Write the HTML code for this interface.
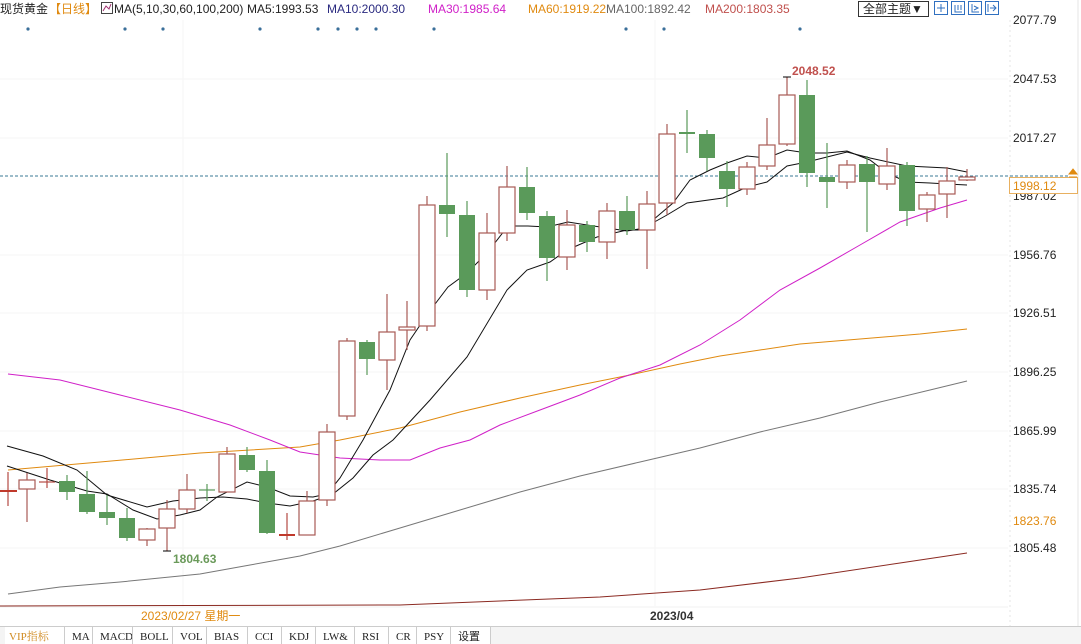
<!DOCTYPE html>
<html><head><meta charset="utf-8"><style>
body{margin:0;width:1081px;height:644px;overflow:hidden;background:#fff;font-family:"Liberation Sans","Noto Sans CJK SC",sans-serif;}
svg{position:absolute;left:0;top:0}
</style></head><body>
<svg width="1081" height="644" viewBox="0 0 1081 644" xmlns="http://www.w3.org/2000/svg" font-family="Liberation Sans, Noto Sans CJK SC, sans-serif">
<g stroke="#f6f6f6" stroke-width="1">
<line x1="0" y1="79" x2="1008" y2="79"/><line x1="0" y1="138" x2="1008" y2="138"/><line x1="0" y1="255" x2="1008" y2="255"/><line x1="0" y1="313" x2="1008" y2="313"/><line x1="0" y1="372" x2="1008" y2="372"/><line x1="0" y1="431" x2="1008" y2="431"/><line x1="0" y1="489" x2="1008" y2="489"/><line x1="0" y1="548" x2="1008" y2="548"/>
<line x1="183" y1="20" x2="183" y2="606"/><line x1="655" y1="20" x2="655" y2="606"/>
</g>
<line x1="1010" y1="20" x2="1010" y2="644" stroke="#e6e6e6" stroke-dasharray="2,3"/>
<line x1="1078" y1="0" x2="1078" y2="644" stroke="#e6e6e6"/>
<line x1="0" y1="176" x2="1070" y2="176" stroke="#3a7a95" stroke-dasharray="3,2"/>
<g fill="#3a6f9a">
<circle cx="28" cy="29" r="1.6"/><circle cx="125" cy="29" r="1.6"/><circle cx="163" cy="29" r="1.6"/><circle cx="260" cy="29" r="1.6"/><circle cx="318" cy="29" r="1.6"/><circle cx="338" cy="29" r="1.6"/><circle cx="357" cy="29" r="1.6"/><circle cx="376" cy="29" r="1.6"/><circle cx="434" cy="29" r="1.6"/><circle cx="626" cy="29" r="1.6"/><circle cx="664" cy="29" r="1.6"/><circle cx="800" cy="29" r="1.6"/>
</g>
<g fill="none" stroke-width="1">
<polyline stroke="#8b2a22" points="0,606 400,605 500,601 600,597 700,590 800,578 900,563 967,553"/>
<polyline stroke="#777" points="8,594 60,587 120,582 200,574 250,565 300,556 340,546 400,528 460,510 520,492 580,476 640,462 700,448 760,432 820,418 880,402 930,390 967,381"/>
<polyline stroke="#e08a10" points="8,470 100,462 200,453 300,447 340,440 400,428 460,412 520,398 580,385 630,375 680,364 720,356 760,350 800,344 860,339 920,334 967,329"/>
<polyline stroke="#d020c8" points="8,374 60,380 120,395 180,410 230,425 270,440 300,452 340,458 380,460 410,460 440,448 470,440 500,425 540,410 580,395 620,378 660,365 700,345 740,320 780,290 820,268 860,245 900,222 940,208 967,200"/>
<polyline stroke="#111" points="7,446 43,456 77,470 107,495 147,507 173,501 200,498 223,497 247,499 267,503 290,506 313,501 333,494 353,478 373,455 393,440 430,400 467,357 507,290 527,270 550,262 567,250 597,237 627,230 640,230 667,215 687,203 723,198 747,187 767,182 787,166 807,162 827,157 847,152 870,158 907,166 947,168 967,172"/>
<polyline stroke="#111" points="7,466 50,480 87,491 107,494 133,510 157,519 180,515 200,510 217,497 247,482 267,487 290,496 313,497 327,494 340,478 363,440 390,390 410,340 429,312 448,287 467,273 487,253 508,226 528,226 547,227 568,222 587,225 607,228 627,231 645,228 653,220 673,203 690,180 710,170 727,163 747,156 767,158 787,150 807,153 827,153 847,151 870,160 887,173 907,182 930,183 947,184 967,185"/>
</g>
<g stroke-width="1.2">
<line x1="8" y1="472" x2="8" y2="506" stroke="#b34a43"/><line x1="0" y1="491" x2="17" y2="491" stroke="#c0392b" stroke-width="2"/>
<line x1="27" y1="473" x2="27" y2="522" stroke="#a85a55"/><rect x="19" y="480" width="16" height="9" fill="#fff" stroke="#a85a55"/>
<line x1="47" y1="468" x2="47" y2="488" stroke="#b34a43"/><line x1="39" y1="482" x2="55" y2="482" stroke="#b34a43"/>
<line x1="67" y1="475" x2="67" y2="500" stroke="#5a9a5a"/><rect x="59" y="481" width="16" height="11" fill="#5a9a5a"/>
<line x1="87" y1="471" x2="87" y2="514" stroke="#5a9a5a"/><rect x="79" y="494" width="16" height="18" fill="#5a9a5a"/>
<line x1="107" y1="495" x2="107" y2="525" stroke="#5a9a5a"/><rect x="99" y="512" width="16" height="6" fill="#5a9a5a"/>
<line x1="127" y1="508" x2="127" y2="541" stroke="#5a9a5a"/><rect x="119" y="518" width="16" height="20" fill="#5a9a5a"/>
<line x1="147" y1="528" x2="147" y2="546" stroke="#a85a55"/><rect x="139" y="529" width="16" height="11" fill="#fff" stroke="#a85a55"/>
<line x1="167" y1="500" x2="167" y2="551" stroke="#a85a55"/><rect x="159" y="509" width="16" height="19" fill="#fff" stroke="#a85a55"/>
<line x1="187" y1="474" x2="187" y2="513" stroke="#a85a55"/><rect x="179" y="490" width="16" height="19" fill="#fff" stroke="#a85a55"/>
<line x1="207" y1="484" x2="207" y2="501" stroke="#5a9a5a"/><line x1="199" y1="490" x2="215" y2="490" stroke="#5a9a5a"/>
<line x1="227" y1="447" x2="227" y2="492" stroke="#a85a55"/><rect x="219" y="454" width="16" height="38" fill="#fff" stroke="#a85a55"/>
<line x1="247" y1="447" x2="247" y2="472" stroke="#5a9a5a"/><rect x="239" y="455" width="16" height="15" fill="#5a9a5a"/>
<line x1="267" y1="460" x2="267" y2="534" stroke="#5a9a5a"/><rect x="259" y="471" width="16" height="62" fill="#5a9a5a"/>
<line x1="287" y1="513" x2="287" y2="540" stroke="#b34a43"/><line x1="279" y1="535" x2="295" y2="535" stroke="#c0392b" stroke-width="2"/>
<line x1="307" y1="491" x2="307" y2="535" stroke="#a85a55"/><rect x="299" y="501" width="16" height="34" fill="#fff" stroke="#a85a55"/>
<line x1="327" y1="424" x2="327" y2="506" stroke="#a85a55"/><rect x="319" y="432" width="16" height="68" fill="#fff" stroke="#a85a55"/>
<line x1="347" y1="338" x2="347" y2="420" stroke="#a85a55"/><rect x="339" y="341" width="16" height="75" fill="#fff" stroke="#a85a55"/>
<line x1="367" y1="340" x2="367" y2="375" stroke="#5a9a5a"/><rect x="359" y="342" width="16" height="17" fill="#5a9a5a"/>
<line x1="387" y1="294" x2="387" y2="390" stroke="#a85a55"/><rect x="379" y="332" width="16" height="28" fill="#fff" stroke="#a85a55"/>
<line x1="407" y1="301" x2="407" y2="350" stroke="#a85a55"/><rect x="399" y="327" width="16" height="3" fill="#fff" stroke="#a85a55"/>
<line x1="427" y1="196" x2="427" y2="331" stroke="#a85a55"/><rect x="419" y="205" width="16" height="121" fill="#fff" stroke="#a85a55"/>
<line x1="447" y1="153" x2="447" y2="237" stroke="#5a9a5a"/><rect x="439" y="205" width="16" height="9" fill="#5a9a5a"/>
<line x1="467" y1="201" x2="467" y2="297" stroke="#5a9a5a"/><rect x="459" y="215" width="16" height="75" fill="#5a9a5a"/>
<line x1="487" y1="213" x2="487" y2="300" stroke="#a85a55"/><rect x="479" y="233" width="16" height="57" fill="#fff" stroke="#a85a55"/>
<line x1="507" y1="166" x2="507" y2="241" stroke="#a85a55"/><rect x="499" y="187" width="16" height="46" fill="#fff" stroke="#a85a55"/>
<line x1="527" y1="167" x2="527" y2="220" stroke="#5a9a5a"/><rect x="519" y="187" width="16" height="26" fill="#5a9a5a"/>
<line x1="547" y1="211" x2="547" y2="281" stroke="#5a9a5a"/><rect x="539" y="216" width="16" height="42" fill="#5a9a5a"/>
<line x1="567" y1="210" x2="567" y2="270" stroke="#a85a55"/><rect x="559" y="225" width="16" height="32" fill="#fff" stroke="#a85a55"/>
<line x1="587" y1="221" x2="587" y2="252" stroke="#5a9a5a"/><rect x="579" y="225" width="16" height="17" fill="#5a9a5a"/>
<line x1="607" y1="203" x2="607" y2="259" stroke="#a85a55"/><rect x="599" y="211" width="16" height="31" fill="#fff" stroke="#a85a55"/>
<line x1="627" y1="196" x2="627" y2="235" stroke="#5a9a5a"/><rect x="619" y="211" width="16" height="19" fill="#5a9a5a"/>
<line x1="647" y1="191" x2="647" y2="269" stroke="#a85a55"/><rect x="639" y="204" width="16" height="26" fill="#fff" stroke="#a85a55"/>
<line x1="667" y1="124" x2="667" y2="215" stroke="#a85a55"/><rect x="659" y="134" width="16" height="69" fill="#fff" stroke="#a85a55"/>
<line x1="687" y1="110" x2="687" y2="153" stroke="#5a9a5a"/><line x1="679" y1="133" x2="695" y2="133" stroke="#5a9a5a" stroke-width="2"/>
<line x1="707" y1="130" x2="707" y2="171" stroke="#5a9a5a"/><rect x="699" y="134" width="16" height="24" fill="#5a9a5a"/>
<line x1="727" y1="161" x2="727" y2="207" stroke="#5a9a5a"/><rect x="719" y="171" width="16" height="18" fill="#5a9a5a"/>
<line x1="747" y1="162" x2="747" y2="195" stroke="#a85a55"/><rect x="739" y="167" width="16" height="22" fill="#fff" stroke="#a85a55"/>
<line x1="767" y1="118" x2="767" y2="170" stroke="#a85a55"/><rect x="759" y="145" width="16" height="21" fill="#fff" stroke="#a85a55"/>
<line x1="787" y1="77" x2="787" y2="146" stroke="#a85a55"/><rect x="779" y="95" width="16" height="49" fill="#fff" stroke="#a85a55"/>
<line x1="807" y1="80" x2="807" y2="187" stroke="#5a9a5a"/><rect x="799" y="95" width="16" height="78" fill="#5a9a5a"/>
<line x1="827" y1="143" x2="827" y2="208" stroke="#5a9a5a"/><rect x="819" y="177" width="16" height="5" fill="#5a9a5a"/>
<line x1="847" y1="160" x2="847" y2="189" stroke="#a85a55"/><rect x="839" y="165" width="16" height="17" fill="#fff" stroke="#a85a55"/>
<line x1="867" y1="156" x2="867" y2="232" stroke="#5a9a5a"/><rect x="859" y="164" width="16" height="18" fill="#5a9a5a"/>
<line x1="887" y1="148" x2="887" y2="190" stroke="#a85a55"/><rect x="879" y="166" width="16" height="18" fill="#fff" stroke="#a85a55"/>
<line x1="907" y1="162" x2="907" y2="226" stroke="#5a9a5a"/><rect x="899" y="165" width="16" height="46" fill="#5a9a5a"/>
<line x1="927" y1="192" x2="927" y2="222" stroke="#a85a55"/><rect x="919" y="195" width="16" height="14" fill="#fff" stroke="#a85a55"/>
<line x1="947" y1="167" x2="947" y2="218" stroke="#a85a55"/><rect x="939" y="181" width="16" height="13" fill="#fff" stroke="#a85a55"/>
<line x1="967" y1="169" x2="967" y2="181" stroke="#a85a55"/><rect x="959" y="177" width="16" height="3" fill="#fff" stroke="#a85a55"/>
</g>
<g stroke="#000" stroke-width="1"><line x1="783" y1="77" x2="791" y2="77"/><line x1="163" y1="551" x2="171" y2="551"/></g>
<text x="792" y="75" font-size="12" font-weight="bold" fill="#c0504d">2048.52</text>
<text x="173" y="563" font-size="12" font-weight="bold" fill="#6a9a5a">1804.63</text>
<g font-size="12" fill="#222">
<text x="1013" y="24">2077.79</text><text x="1013" y="83">2047.53</text><text x="1013" y="142">2017.27</text><text x="1013" y="200">1987.02</text><text x="1013" y="259">1956.76</text><text x="1013" y="317">1926.51</text><text x="1013" y="376">1896.25</text><text x="1013" y="435">1865.99</text><text x="1013" y="493">1835.74</text><text x="1013" y="552">1805.48</text>
</g>
<text x="1013" y="525" font-size="12" fill="#e08a10">1823.76</text>
<rect x="1009.5" y="177.5" width="68" height="16" fill="#fff" stroke="#e8b060"/>
<text x="1013" y="190" font-size="12" fill="#e08a10">1998.12</text>
<path d="M1069,174 L1073,169 L1077,174 Z M1069,177 L1077,177" fill="#e08a10" stroke="#e08a10"/>
<g font-size="12">
<text x="0" y="13" fill="#222">现货黄金</text>
<text x="49" y="13" fill="#e08a10">【日线】</text>
<rect x="101.5" y="2.5" width="11" height="11" fill="#fff" stroke="#444"/><path d="M103,11 L106,6 L109,9 L111,4" stroke="#a03070" fill="none"/>
<text x="114" y="13" fill="#222">MA(5,10,30,60,100,200)</text>
<text x="247" y="13" fill="#222">MA5:1993.53</text>
<text x="327" y="13" fill="#2a2a80">MA10:2000.30</text>
<text x="428" y="13" fill="#d020c8">MA30:1985.64</text>
<text x="528" y="13" fill="#e08a10">MA60:1919.22</text>
<text x="606" y="13" fill="#666">MA100:1892.42</text>
<text x="705" y="13" fill="#c0504d">MA200:1803.35</text>
</g>
<rect x="858.5" y="1.5" width="70" height="15" fill="#fff" stroke="#333"/>
<text x="863" y="13" font-size="12" fill="#222">全部主题▼</text>
<g fill="#fff" stroke="#3070c0"><rect x="934.5" y="1.5" width="13" height="13"/><rect x="951.5" y="1.5" width="13" height="13"/><rect x="968.5" y="1.5" width="13" height="13"/><rect x="985.5" y="1.5" width="13" height="13"/></g>
<g stroke="#3070c0" fill="none"><path d="M941,4 V12 M937,8 H945"/><path d="M955,5 V12 H962 M958,5 V10 M961,5 V10"/><path d="M972,4 V12 H979 M974,6 L978,8 L974,10"/><path d="M988,4 V12 M990,8 H996 M993,5 L996,8 L993,11"/></g>
<line x1="0" y1="607" x2="1008" y2="607" stroke="#f2f2f2"/>
<text x="141" y="620" font-size="12" fill="#e08a10">2023/02/27 星期一</text>
<text x="650" y="620" font-size="12" font-weight="bold" fill="#333">2023/04</text>
<rect x="0" y="626" width="1081" height="18" fill="#f4f4f4"/>
<line x1="0" y1="626.5" x2="1081" y2="626.5" stroke="#ccc"/>
<rect x="5" y="627" width="485" height="17" fill="#fff"/>
<g font-family="Liberation Serif, Noto Serif CJK SC, serif" font-size="11" fill="#222">
<text x="9" y="640" fill="#d08a20">VIP指标</text>
<text x="72" y="640">MA</text><text x="100" y="640">MACD</text><text x="140" y="640">BOLL</text><text x="180" y="640">VOL</text><text x="214" y="640">BIAS</text><text x="255" y="640">CCI</text><text x="289" y="640">KDJ</text><text x="323" y="640">LW&amp;</text><text x="362" y="640">RSI</text><text x="396" y="640">CR</text><text x="424" y="640">PSY</text><text x="458" y="640" font-family="Liberation Sans, Noto Sans CJK SC, sans-serif">设置</text>
</g>
<g stroke="#ccc"><line x1="64.5" y1="627" x2="64.5" y2="644"/><line x1="92.5" y1="627" x2="92.5" y2="644"/><line x1="132.5" y1="627" x2="132.5" y2="644"/><line x1="172.5" y1="627" x2="172.5" y2="644"/><line x1="206.5" y1="627" x2="206.5" y2="644"/><line x1="247.5" y1="627" x2="247.5" y2="644"/><line x1="281.5" y1="627" x2="281.5" y2="644"/><line x1="315.5" y1="627" x2="315.5" y2="644"/><line x1="354.5" y1="627" x2="354.5" y2="644"/><line x1="388.5" y1="627" x2="388.5" y2="644"/><line x1="416.5" y1="627" x2="416.5" y2="644"/><line x1="450.5" y1="627" x2="450.5" y2="644"/><line x1="490.5" y1="627" x2="490.5" y2="644"/></g>
</svg>
</body></html>
